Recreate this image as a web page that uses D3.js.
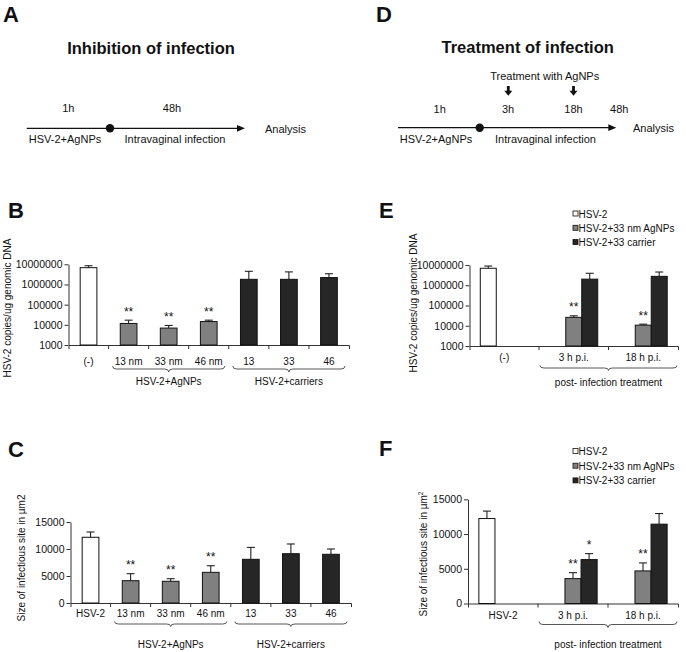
<!DOCTYPE html>
<html><head><meta charset="utf-8">
<script src="https://cdn.jsdelivr.net/npm/d3@7"></script>
<style>body{margin:0;background:#fff} text{font-family:"Liberation Sans",Arial,Helvetica,sans-serif}</style>
</head><body>
<script>
// ---------- data ----------
const catsB = ["(-)","13 nm","33 nm","46 nm","13","33","46"];
const typesB = ["HSV-2","AgNPs","AgNPs","AgNPs","carrier","carrier","carrier"];
const valsB = [6.8e6,1.17e4,6.9e3,1.45e4,1.8e6,1.8e6,2.2e6];
const errsB = [1.7e6,5.3e3,2.4e3,2.5e3,2.7e6,2.4e6,1.2e6];
const sigB = ["","**","**","**","","",""];
const groupsB = ["HSV-2+AgNPs","HSV-2+carriers"];
const groupSpanB = [["13 nm","46 nm"],["13","46"]];
const ticksLog = [1000,10000,100000,1000000,10000000];

const catsC = ["HSV-2","13 nm","33 nm","46 nm","13","33","46"];
const typesC = ["HSV-2","AgNPs","AgNPs","AgNPs","carrier","carrier","carrier"];
const valsC = [12170,4130,4020,5680,8090,9130,9020];
const errsC = [980,1300,480,1220,2210,1800,980];
const sigC = ["","**","**","**","","",""];
const groupsC = ["HSV-2+AgNPs","HSV-2+carriers"];
const groupSpanC = [["13 nm","46 nm"],["13","46"]];
const ticksLin = [0,5000,10000,15000];

const seriesEF = ["HSV-2","HSV-2+33 nm AgNPs","HSV-2+33 carrier"];
const catsE = ["(-)","3 h p.i.","18 h p.i."];
const valsE = [[6.9e6,null,null],[null,2.6e4,1.07e4],[null,2.0e6,2.75e6]];
const errsE = [[2.0e6,null,null],[null,5e3,1.3e3],[null,1.9e6,1.75e6]];
const sigE = [["","",""],["","**","**"],["","",""]];
const groupsE = ["post- infection treatment"];
const groupSpanE = [["3 h p.i.","18 h p.i."]];

const catsF = ["HSV-2","3 h p.i.","18 h p.i."];
const valsF = [[12230,null,null],[null,3580,4690],[null,6320,11420]];
const errsF = [[1070,null,null],[null,860,1150],[null,860,1530]];
const sigF = [["","",""],["","**","**"],["","*",""]];
const groupsF = ["post- infection treatment"];
const groupSpanF = [["3 h p.i.","18 h p.i."]];

// ---------- setup ----------
const FONT = '"Liberation Sans", Arial, Helvetica, sans-serif';
const svg = d3.select("body").append("svg").attr("width",686).attr("height",652);
const typeFill = {"HSV-2":"#ffffff","AgNPs":"#808080","carrier":"#262626"};
const seriesFill = ["#ffffff","#808080","#262626"];
const AX = "#333";

function styleAxis(a, size){
  a.attr("font-family",FONT);
  a.selectAll("text").attr("font-size",size).attr("fill","#111");
  a.selectAll("path,line").attr("stroke",AX);
}
function brace(g, x1, x2, y0, depth){
  const xm=(x1+x2)/2, ym=y0+depth/2, yt=y0+depth, r=4;
  g.append("path")
    .attr("d",`M${x1},${y0}Q${x1},${ym} ${x1+r},${ym}L${xm-r},${ym}Q${xm},${ym} ${xm},${yt}Q${xm},${ym} ${xm+r},${ym}L${x2-r},${ym}Q${x2},${ym} ${x2},${y0}`)
    .attr("fill","none").attr("stroke","#444").attr("stroke-width",0.9);
}
function txt(g, s, x, y, size, opts={}){
  const t = g.append("text").attr("x",x).attr("y",y).attr("font-size",size)
    .attr("text-anchor",opts.anchor||"start").attr("fill","#111").text(s);
  if(opts.bold) t.attr("font-weight","bold");
  return t;
}

function frame(o){
  const g = svg.append("g");
  const x = d3.scaleBand().domain(o.cats).range(o.xr).padding(0);
  const y0 = o.y.range()[0];
  const ya = g.append("g").attr("transform",`translate(${o.xr[0]},0)`)
    .call(d3.axisLeft(o.y).tickValues(o.ticks).tickFormat(d3.format("d")).tickSize(4).tickPadding(2).tickSizeOuter(0));
  styleAxis(ya, 10.5);
  const xa = g.append("g").attr("transform",`translate(0,${y0})`)
    .call(d3.axisBottom(x).tickSize(0).tickPadding(o.labPad).tickSizeOuter(4));
  styleAxis(xa, 10);
  g.selectAll(".bt").data(o.cats.slice(1)).join("line")
    .attr("x1",d=>x(d)).attr("x2",d=>x(d)).attr("y1",y0).attr("y2",y0+4).attr("stroke",AX);
  // braces & group labels
  o.groups.forEach((lab,i)=>{
    const [a,b] = o.spans[i];
    const x1 = x(a)+o.inset, x2 = x(b)+x.bandwidth()-o.inset;
    brace(g, x1, x2, o.braceY, o.braceD);
    txt(g, lab, (x1+x2)/2, o.groupY, 10, {anchor:"middle"});
  });
  // y label
  const yl = g.append("text").attr("transform",`translate(${o.ylx},${o.lyc}) rotate(-90)`)
    .attr("text-anchor","middle").attr("font-size",10).attr("fill","#111");
  yl.append("tspan").text(o.ylab);
  if(o.sup) yl.append("tspan").attr("font-size",6.5).attr("dy",-4).text(o.sup);
  // panel letter
  txt(svg, o.letter, o.letterX, o.letterY, 22, {bold:true});
  return {g,x,y0};
}

function errAndStar(g, cx, y, v, e, s){
  const yt = y(v+e);
  g.append("line").attr("x1",cx).attr("x2",cx).attr("y1",y(v)).attr("y2",yt).attr("stroke","#222").attr("stroke-width",1.1);
  g.append("line").attr("x1",cx-4).attr("x2",cx+4).attr("y1",yt).attr("y2",yt).attr("stroke","#222").attr("stroke-width",1.1);
  if(s) txt(g, s, cx, yt-4.5, 12, {anchor:"middle"});
}

function singlePanel(o){
  const {g,x,y0} = frame(o);
  const bw = x.bandwidth()*0.417;
  o.cats.forEach((c,i)=>{
    const v=o.vals[i], cx = x(c)+x.bandwidth()/2;
    g.append("rect").attr("x",cx-bw/2).attr("y",o.y(v)).attr("width",bw).attr("height",y0-o.y(v))
      .attr("fill",typeFill[o.types[i]]).attr("stroke","#111").attr("stroke-width",1);
    errAndStar(g, cx, o.y, v, o.errs[i], o.sig[i]);
  });
}

function groupPanel(o){
  const {g,x,y0} = frame(o);
  const x1 = d3.scaleBand().domain(seriesEF).range([0,x.bandwidth()]).paddingInner(0).paddingOuter(0.675);
  seriesEF.forEach((s,si)=>{
    o.cats.forEach((c,i)=>{
      const v=o.vals[si][i]; if(v==null) return;
      const bx = x(c)+x1(s);
      g.append("rect").attr("x",bx).attr("y",o.y(v)).attr("width",x1.bandwidth()).attr("height",y0-o.y(v))
        .attr("fill",seriesFill[si]).attr("stroke","#111").attr("stroke-width",1);
      errAndStar(g, bx+x1.bandwidth()/2, o.y, v, o.errs[si][i], o.sig[si][i]);
    });
  });
  // legend
  seriesEF.forEach((s,si)=>{
    const by = o.legY[si];
    g.append("rect").attr("x",o.legX).attr("y",by-6.5).attr("width",5).attr("height",5)
      .attr("fill",seriesFill[si]).attr("stroke","#111").attr("stroke-width",0.8);
    txt(g, s, o.legX+5.5, by, 10);
  });
}

// ---------- panel B ----------
singlePanel({cats:catsB, vals:valsB, errs:errsB, types:typesB, sig:sigB,
  y:d3.scaleLog().domain([1000,1e7]).range([345,264.3]), ticks:ticksLog,
  xr:[68.5,349], labPad:13.2, groups:groupsB, spans:groupSpanB, inset:4,
  braceY:366, braceD:6, groupY:385,
  ylab:"HSV-2 copies/ug genomic DNA", ylx:10.5, lyc:308,
  letter:"B", letterX:8, letterY:218});

// ---------- panel C ----------
singlePanel({cats:catsC, vals:valsC, errs:errsC, types:typesC, sig:sigC,
  y:d3.scaleLinear().domain([0,15000]).range([603,522]), ticks:ticksLin,
  xr:[70.5,351], labPad:7, groups:groupsC, spans:groupSpanC, inset:4,
  braceY:621.5, braceD:5, groupY:647.5,
  ylab:"Size of infectious site in \u00b5m2", ylx:25, lyc:558,
  letter:"C", letterX:8, letterY:456.5});

// ---------- panel E ----------
groupPanel({cats:catsE, vals:valsE, errs:errsE, sig:sigE,
  y:d3.scaleLog().domain([1000,1e7]).range([346,265]), ticks:ticksLog,
  xr:[469.5,678], labPad:8, groups:groupsE, spans:groupSpanE, inset:1,
  braceY:365.5, braceD:5, groupY:385.5,
  ylab:"HSV-2 copies/ug genomic DNA", ylx:417, lyc:303,
  legX:573, legY:[217.5,231.8,246],
  letter:"E", letterX:379, letterY:218});

// ---------- panel F ----------
groupPanel({cats:catsF, vals:valsF, errs:errsF, sig:sigF,
  y:d3.scaleLinear().domain([0,15000]).range([603.5,499.3]), ticks:ticksLin,
  xr:[468,678], labPad:8, groups:groupsF, spans:groupSpanF, inset:1,
  braceY:621.5, braceD:6, groupY:647.5,
  ylab:"Size of infectious site in \u00b5m", sup:"2", ylx:427, lyc:554,
  legX:573, legY:[455,469.7,484.4],
  letter:"F", letterX:379, letterY:456});

// ---------- timelines A and D ----------
function timeline(g, x1, x2, dotX, y){
  g.append("line").attr("x1",x1).attr("x2",x2-6).attr("y1",y).attr("y2",y).attr("stroke","#111").attr("stroke-width",1.2);
  g.append("path").attr("d",`M${x2-8},${y-3.4}L${x2},${y}L${x2-8},${y+3.4}Z`).attr("fill","#111");
  g.append("circle").attr("cx",dotX).attr("cy",y).attr("r",4.2).attr("fill","#111");
}
function downArrow(g, cx, yTop){
  g.append("rect").attr("x",cx-1.4).attr("y",yTop).attr("width",2.8).attr("height",5).attr("fill","#111");
  g.append("path").attr("d",`M${cx-4},${yTop+4.8}L${cx+4},${yTop+4.8}L${cx},${yTop+9.8}Z`).attr("fill","#111");
}
const tA = svg.append("g");
txt(svg,"A",3,21.5,22,{bold:true});
txt(tA,"Inhibition of infection",151,54,16.5,{bold:true,anchor:"middle"});
txt(tA,"1h",68.3,112.3,11,{anchor:"middle"});
txt(tA,"48h",172,112.3,11,{anchor:"middle"});
timeline(tA,26.7,245,110,128.3);
txt(tA,"Analysis",265,133.3,11);
txt(tA,"HSV-2+AgNPs",65,143,11,{anchor:"middle"});
txt(tA,"Intravaginal infection",175,143,11,{anchor:"middle"});

const tD = svg.append("g");
txt(svg,"D",376,21.5,22,{bold:true});
txt(tD,"Treatment of infection",527.7,53.3,16.5,{bold:true,anchor:"middle"});
txt(tD,"Treatment with AgNPs",544.7,80,11,{anchor:"middle"});
downArrow(tD,508.3,86);
downArrow(tD,573.5,86);
txt(tD,"1h",439.7,113.3,11,{anchor:"middle"});
txt(tD,"3h",508,113.3,11,{anchor:"middle"});
txt(tD,"18h",573.5,113.3,11,{anchor:"middle"});
txt(tD,"48h",619.3,113.3,11,{anchor:"middle"});
timeline(tD,398,616.3,479.7,127.7);
txt(tD,"Analysis",633,131.7,11);
txt(tD,"HSV-2+AgNPs",436,143,11,{anchor:"middle"});
txt(tD,"Intravaginal infection",545.5,143,11,{anchor:"middle"});
</script>
</body></html>
